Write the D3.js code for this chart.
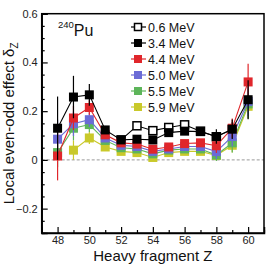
<!DOCTYPE html>
<html>
<head>
<meta charset="utf-8">
<script src="https://cdn.jsdelivr.net/npm/d3@7"></script>
<style>
    body { margin: 0; background: #fff; }
    svg { font-family: "Liberation Sans", Arial, sans-serif; }
</style>
</head>
<body>
<script>
// Heavy fragment charge numbers
var zValues = [48, 49, 50, 51, 52, 53, 54, 55, 56, 57, 58, 59, 60];

// Series labels and colours (legend order)
var seriesNames = ["0.6 MeV", "3.4 MeV", "4.4 MeV", "5.0 MeV", "5.5 MeV", "5.9 MeV"];
var seriesColors = ["#000000", "#000000", "#e0262b", "#6b6bd6", "#5db55a", "#c9c92a"];

// Local even-odd effect values (null = no point)
var e06 = [null, null, null, null, 0.082, 0.14, 0.12, 0.133, 0.144, 0.118, 0.095, 0.125, null];
var e34 = [0.13, 0.258, 0.267, 0.123, 0.082, 0.085, 0.082, 0.112, 0.118, 0.116, 0.096, 0.126, 0.247];
var e44 = [0.016, 0.172, 0.215, 0.103, 0.07, 0.065, 0.044, 0.053, 0.067, 0.07, 0.058, 0.13, 0.32];
var e50 = [0.085, 0.148, 0.165, 0.09, 0.06, 0.055, 0.035, 0.045, 0.055, 0.055, 0.034, 0.096, 0.24];
var e55 = [0.03, 0.13, 0.145, 0.08, 0.05, 0.045, 0.025, 0.04, 0.045, 0.045, 0.02, 0.07, 0.23];
var e59 = [null, 0.04, 0.09, 0.053, 0.035, 0.03, 0.01, 0.03, 0.035, 0.035, 0.018, 0.06, 0.22];

// Error bar half-widths
var err06 = [0, 0, 0, 0, 0.01, 0.01, 0.01, 0.01, 0.01, 0.01, 0.02, 0.03, 0];
var err34 = [0.13, 0.087, 0.045, 0.015, 0.01, 0.01, 0.012, 0.01, 0.01, 0.01, 0.03, 0.04, 0.08];
var err44 = [0.1, 0.05, 0.03, 0.015, 0.01, 0.01, 0.012, 0.01, 0.01, 0.012, 0.03, 0.04, 0.075];
var err50 = [0.08, 0.05, 0.03, 0.015, 0.01, 0.01, 0.012, 0.01, 0.01, 0.012, 0.03, 0.04, 0.06];
var err55 = [0.06, 0.05, 0.03, 0.015, 0.01, 0.01, 0.012, 0.01, 0.01, 0.012, 0.025, 0.04, 0.06];
var err59 = [0, 0.04, 0.025, 0.015, 0.01, 0.01, 0.012, 0.01, 0.01, 0.012, 0.02, 0.03, 0.05];

var yTickValues = [-0.2, 0, 0.2, 0.4, 0.6];
var xTickValues = [48, 50, 52, 54, 56, 58, 60];

var seriesValues = [e06, e34, e44, e50, e55, e59];
var seriesErrors = [err06, err34, err44, err50, err55, err59];

// Chart frame
var width = 278,
    height = 265;
var margin = {left: 41.7, top: 13.7, right: 14, bottom: 32};

var svg = d3.select("body")
    .append("svg")
    .attr("width", width)
    .attr("height", height);

var x = d3.scaleLinear()
    .domain([47, 61])
    .range([margin.left, width - margin.right]);

var y = d3.scaleLinear()
    .domain([-0.3, 0.6])
    .range([height - margin.bottom, margin.top]);

// Zero reference line
svg.append("line")
    .attr("x1", x(47)).attr("x2", x(61))
    .attr("y1", y(0)).attr("y2", y(0))
    .attr("stroke", "#999")
    .attr("stroke-width", 1)
    .attr("stroke-dasharray", "3,2");

// Minor ticks (inward), no labels
var yMinor = d3.range(-0.3, 0.6001, 0.05).filter(function(v) {
    return Math.abs(v * 10 - Math.round(v * 10)) > 0.01 || Math.round(v * 10) % 2 !== 0;
});
svg.append("g")
    .attr("transform", "translate(" + margin.left + ",0)")
    .call(d3.axisLeft(y).tickValues(yMinor).tickSize(-3).tickFormat(""))
    .call(function(g) { g.select(".domain").remove(); g.selectAll("text").remove(); });

svg.append("g")
    .attr("transform", "translate(0," + (height - margin.bottom) + ")")
    .call(d3.axisBottom(x).tickValues(d3.range(47, 62, 1).filter(function(v) { return v % 2 === 1; })).tickSize(-3).tickFormat(""))
    .call(function(g) { g.select(".domain").remove(); g.selectAll("text").remove(); });

// Major axes
var yAxis = svg.append("g")
    .attr("transform", "translate(" + margin.left + ",0)")
    .call(d3.axisLeft(y)
        .tickValues(yTickValues)
        .tickSize(-6)
        .tickPadding(4)
        .tickFormat(function(d) { return d === 0 ? "0" : d3.format(".1f")(d).replace("-", "\u2212"); }));

var xAxis = svg.append("g")
    .attr("transform", "translate(0," + (height - margin.bottom) + ")")
    .call(d3.axisBottom(x)
        .tickValues(xTickValues)
        .tickSize(-6)
        .tickPadding(3)
        .tickFormat(d3.format("d")));

svg.selectAll(".tick text")
    .attr("font-size", 11)
    .attr("fill", "#222");
svg.selectAll(".tick line").attr("stroke-width", 1.2);
svg.selectAll(".domain").attr("stroke-width", 1.5);

// Box frame
svg.append("rect")
    .attr("x", x(47)).attr("y", y(0.6))
    .attr("width", x(61) - x(47))
    .attr("height", y(-0.3) - y(0.6))
    .attr("fill", "none")
    .attr("stroke", "#000")
    .attr("stroke-width", 1.5);

// Draw order: open squares first, then the hottest series up to 3.4 MeV on top
var drawOrder = [0, 5, 4, 3, 2, 1];
var ms = 9;
drawOrder.forEach(function(s) {
    var vals = seriesValues[s],
        errs = seriesErrors[s],
        col = seriesColors[s];
    var pts = zValues.map(function(z, i) {
        return {z: z, v: vals[i], e: errs[i]};
    }).filter(function(d) { return d.v !== null; });

    var line = d3.line()
        .x(function(d) { return x(d.z); })
        .y(function(d) { return y(d.v); });

    var g = svg.append("g").attr("class", "series");

    g.append("path")
        .datum(pts)
        .attr("d", line)
        .attr("fill", "none")
        .attr("stroke", col)
        .attr("stroke-width", 1.1);

    g.selectAll(".err")
        .data(pts.filter(function(d) { return d.e > 0; }))
        .enter()
        .append("line")
        .attr("class", "err")
        .attr("x1", function(d) { return x(d.z); })
        .attr("x2", function(d) { return x(d.z); })
        .attr("y1", function(d) { return y(d.v - d.e); })
        .attr("y2", function(d) { return y(d.v + d.e); })
        .attr("stroke", col)
        .attr("stroke-width", 1.2);

    if (s === 0) {
        g.selectAll(".mark")
            .data(pts)
            .enter()
            .append("rect")
            .attr("x", function(d) { return x(d.z) - 4; })
            .attr("y", function(d) { return y(d.v) - 4; })
            .attr("width", 8).attr("height", 8)
            .attr("fill", "#fff")
            .attr("stroke", "#000")
            .attr("stroke-width", 1.5);
    } else {
        g.selectAll(".mark")
            .data(pts)
            .enter()
            .append("rect")
            .attr("x", function(d) { return x(d.z) - ms / 2; })
            .attr("y", function(d) { return y(d.v) - ms / 2; })
            .attr("width", ms).attr("height", ms)
            .attr("fill", col);
    }
});

// Legend
var legend = svg.append("g");
seriesNames.forEach(function(name, i) {
    var ly = 27 + i * 16;
    legend.append("line")
        .attr("x1", 131).attr("x2", 146)
        .attr("y1", ly).attr("y2", ly)
        .attr("stroke", seriesColors[i])
        .attr("stroke-width", 1.2);
    if (i === 0) {
        legend.append("rect")
            .attr("x", 134.5).attr("y", ly - 3.5)
            .attr("width", 7).attr("height", 7)
            .attr("fill", "#fff").attr("stroke", "#000").attr("stroke-width", 1.5);
    } else {
        legend.append("rect")
            .attr("x", 134).attr("y", ly - 4)
            .attr("width", 8).attr("height", 8)
            .attr("fill", seriesColors[i]);
    }
    legend.append("text")
        .attr("x", 148).attr("y", ly + 4.5)
        .attr("font-size", 12.5)
        .attr("fill", "#111")
        .text(name);
});

// Nucleus label
var nuc = svg.append("text").attr("x", 58).attr("y", 36).attr("fill", "#111");
nuc.append("tspan").attr("font-size", 9.5).attr("dy", -8).text("240");
nuc.append("tspan").attr("font-size", 16).attr("dy", 8).text("Pu");

// Axis titles
svg.append("text")
    .attr("x", (x(47) + x(61)) / 2)
    .attr("y", 260.5)
    .attr("text-anchor", "middle")
    .attr("font-size", 15)
    .attr("fill", "#111")
    .text("Heavy fragment Z");

var yt = svg.append("text")
    .attr("transform", "translate(14," + ((y(0.6) + y(-0.3)) / 2) + ") rotate(-90)")
    .attr("text-anchor", "middle")
    .attr("font-size", 15)
    .attr("fill", "#111");
yt.append("tspan").text("Local even-odd effect \u03b4");
yt.append("tspan").attr("font-size", 10).attr("dy", 4).text("Z");
</script>
</body>
</html>
